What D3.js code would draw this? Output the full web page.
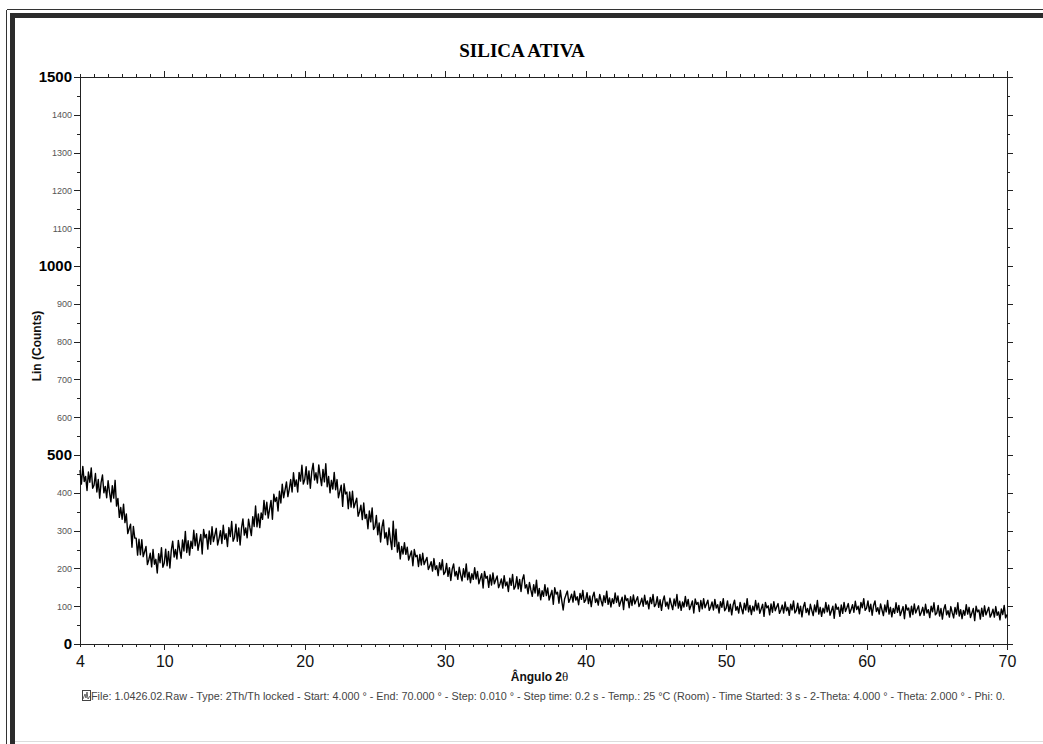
<!DOCTYPE html>
<html>
<head>
<meta charset="utf-8">
<title>SILICA ATIVA</title>
<script src="https://cdn.jsdelivr.net/npm/d3@7"></script>
<style>
    html, body { margin: 0; padding: 0; background: #ffffff; }
    #chart { display: block; }
    .axis path, .axis line { stroke: #222; shape-rendering: crispEdges; }
</style>
</head>
<body>
<svg id="chart"></svg>
<script>

// scan settings (2-theta, degrees)
const startAngle = 4;
const stepAngle = 0.1;

// intensities, one row per degree (4.0 .. 69.9), then 70.0
const counts = [
    460,423,470,430,443,406,455,428,466,412,
    420,451,402,435,386,427,447,400,417,387,
    432,402,376,419,386,433,365,385,335,361,
    330,370,321,344,292,305,317,256,311,280,
    280,235,277,236,276,231,244,258,210,223,
    240,204,250,211,224,188,239,215,255,203,
    214,251,207,245,201,248,272,230,250,225,
    274,249,227,275,246,298,242,273,235,272,
    253,301,260,292,248,269,290,238,303,281,
    290,251,299,264,310,271,288,306,262,279,
    300,266,314,277,292,258,308,284,324,272,
    282,317,272,307,262,307,331,288,307,281,
    330,307,287,337,311,365,310,344,308,347,
    330,380,342,375,333,357,380,330,396,377,
    388,352,404,373,423,387,408,429,390,410,
    435,402,453,417,434,402,454,431,473,423,
    435,469,423,458,412,456,478,434,453,426,
    474,444,419,462,429,477,416,443,400,433,
    410,454,408,435,387,404,420,364,424,397,
    402,358,402,362,404,360,373,386,338,350,
    367,329,373,332,343,305,352,323,360,303,
    310,340,289,320,270,310,328,280,295,263,
    307,276,250,325,258,304,243,269,225,258,
    238,268,237,256,222,234,246,207,250,231,
    235,205,237,209,240,210,220,229,197,206,
    218,193,226,197,207,181,215,196,223,184,
    190,213,179,202,168,198,212,180,192,171,
    203,183,167,199,177,212,170,190,162,186,
    171,202,172,192,159,173,186,148,192,174,
    179,150,183,156,188,159,170,180,149,159,
    172,148,181,154,164,139,174,155,184,145,
    152,178,146,171,139,171,183,148,157,133,
    163,143,126,157,135,169,127,147,117,141,
    126,157,128,148,116,129,142,105,149,132,
    137,108,142,115,90,119,130,140,110,120,
    132,111,140,116,125,104,134,118,142,110,
    116,136,107,127,99,125,137,110,120,103,
    131,115,101,128,110,140,105,122,98,120,
    107,135,110,127,100,112,124,91,129,115,
    120,96,125,102,130,106,116,125,99,108,
    121,100,129,105,114,93,123,107,131,99,
    105,125,97,117,89,114,127,100,111,93,
    121,105,91,119,101,131,95,113,89,111,
    98,126,100,118,91,102,114,82,119,105,
    110,86,115,93,120,96,106,116,89,98,
    111,90,118,95,104,82,112,97,120,88,
    94,114,86,105,77,103,116,89,99,82,
    110,94,80,108,90,120,85,102,78,100,
    87,115,90,108,81,93,105,73,110,96,
    101,77,106,84,112,88,98,107,81,90,
    103,82,111,88,97,76,105,90,114,82,
    88,108,80,100,72,98,110,83,94,77,
    105,89,75,103,85,115,79,97,73,95,
    82,110,85,103,76,88,100,68,106,92,
    97,73,103,81,110,86,96,107,81,91,
    104,84,113,91,100,80,110,96,120,89,
    95,114,86,105,76,102,114,86,96,79,
    106,90,75,103,85,115,79,97,72,94,
    81,109,84,102,75,87,99,67,104,90,
    95,71,100,78,106,82,92,101,75,84,
    97,76,105,82,91,70,100,85,109,77,
    82,102,74,94,66,92,104,77,88,71,
    99,83,69,97,79,109,74,91,67,89,
    76,104,79,97,70,82,94,62,100,85,
    90,66,95,73,101,77,87,97,71,79,
    92,71,99,76,85,64,93,78,102,69,
    78
];

// axis domains and labelled ticks
const xDomain = [4, 70];
const yDomain = [0, 1500];
const xLabelTicks = [4, 10, 20, 30, 40, 50, 60, 70];
const yBoldTicks = [0, 500, 1000, 1500];

const chartTitle = "SILICA ATIVA";
const xTitle = "Ângulo 2";
const yTitle = "Lin (Counts)";
const footerText = "File: 1.0426.02.Raw - Type: 2Th/Th locked - Start: 4.000 ° - End: 70.000 ° - Step: 0.010 ° - Step time: 0.2 s - Temp.: 25 °C (Room) - Time Started: 3 s - 2-Theta: 4.000 ° - Theta: 2.000 ° - Phi: 0.";


class DiffractionChart {

    constructor(parentElement, data) {
        this.parentElement = parentElement;
        this.data = data;
        this.initVis();
    }

    initVis() {
        let vis = this;

        vis.W = 1043;
        vis.H = 744;
        vis.margin = { top: 77, right: 36, bottom: 100, left: 80 };
        vis.width = vis.W - vis.margin.left - vis.margin.right;
        vis.height = vis.H - vis.margin.top - vis.margin.bottom;

        vis.root = d3.select("#" + vis.parentElement)
            .attr("width", vis.W)
            .attr("height", vis.H);

        vis.drawFrame();

        vis.svg = vis.root.append("g")
            .attr("transform", `translate(${vis.margin.left}, ${vis.margin.top})`);

        vis.xScale = d3.scaleLinear().domain(xDomain).range([0, vis.width]);
        vis.yScale = d3.scaleLinear().domain(yDomain).range([vis.height, 0]);

        vis.wrangleData();
    }

    // the double border of the report page
    drawFrame() {
        let vis = this;
        let f = vis.root.append("g").attr("class", "frame").attr("shape-rendering", "crispEdges");

        f.append("line").attr("x1", 6.5).attr("x2", 6.5).attr("y1", 9.5).attr("y2", vis.H)
            .attr("stroke", "#333");
        f.append("line").attr("x1", 6.5).attr("x2", vis.W).attr("y1", 9.5).attr("y2", 9.5)
            .attr("stroke", "#333");
        f.append("rect").attr("x", 10).attr("y", 13).attr("width", 5).attr("height", vis.H)
            .attr("fill", "#2b2b2b");
        f.append("rect").attr("x", 10).attr("y", 13).attr("width", vis.W).attr("height", 5)
            .attr("fill", "#2b2b2b");
        f.append("line").attr("x1", 15).attr("x2", vis.W).attr("y1", 741.5).attr("y2", 741.5)
            .attr("stroke", "#dcdcdc");
    }

    wrangleData() {
        let vis = this;
        vis.displayData = vis.data.map((c, i) => ({
            angle: startAngle + i * stepAngle,
            count: c
        }));
        vis.updateVis();
    }

    updateVis() {
        let vis = this;
        let xMinor = d3.range(xDomain[0], xDomain[1] + 1, 1);
        let yMinor = d3.range(yDomain[0], yDomain[1] + 1, 50);
        let xLen = d => (d % 10 === 0 ? 6 : 3);
        let yLen = d => (d % 100 === 0 ? 6 : 3);

        // bottom axis
        let bottom = vis.svg.append("g")
            .attr("class", "axis x-axis")
            .attr("transform", `translate(0, ${vis.height})`)
            .call(d3.axisBottom(vis.xScale).tickValues(xMinor).tickSizeOuter(0)
                .tickFormat(d => xLabelTicks.includes(d) ? d : ""));
        bottom.selectAll(".tick line").attr("y2", xLen);
        bottom.selectAll(".tick text")
            .attr("y", 23).attr("dy", null)
            .style("font-family", "'Liberation Sans', Arial, sans-serif")
            .style("font-size", "16px").attr("fill", "#111");

        // top axis (ticks only)
        let top = vis.svg.append("g")
            .attr("class", "axis")
            .call(d3.axisTop(vis.xScale).tickValues(xMinor).tickSizeOuter(0).tickFormat(""));
        top.selectAll(".tick line").attr("y2", d => -xLen(d));

        // left axis
        let left = vis.svg.append("g")
            .attr("class", "axis y-axis")
            .call(d3.axisLeft(vis.yScale).tickValues(yMinor).tickSizeOuter(0).tickPadding(3)
                .tickFormat(d => d % 100 === 0 ? d : ""));
        left.selectAll(".tick line").attr("x2", d => -yLen(d));
        left.selectAll(".tick text")
            .attr("x", -8)
            .style("font-family", "'Liberation Sans', Arial, sans-serif")
            .style("font-size", d => yBoldTicks.includes(d) ? "15px" : "9px")
            .style("font-weight", d => yBoldTicks.includes(d) ? "bold" : "normal")
            .attr("fill", d => yBoldTicks.includes(d) ? "#000" : "#555");

        // right axis (ticks only)
        let right = vis.svg.append("g")
            .attr("class", "axis")
            .attr("transform", `translate(${vis.width}, 0)`)
            .call(d3.axisRight(vis.yScale).tickValues(yMinor).tickSizeOuter(0).tickFormat(""));
        right.selectAll(".tick line").attr("x2", yLen);

        // close the box
        vis.svg.append("line").attr("x1", 0).attr("x2", vis.width).attr("y1", 0.5).attr("y2", 0.5)
            .attr("stroke", "#222").attr("shape-rendering", "crispEdges");

        // the diffraction trace
        let line = d3.line()
            .x(d => vis.xScale(d.angle))
            .y(d => vis.yScale(d.count));

        vis.svg.append("path")
            .datum(vis.displayData)
            .attr("class", "trace")
            .attr("d", line)
            .attr("fill", "none")
            .attr("stroke", "#000")
            .attr("stroke-width", 1.4)
            .attr("stroke-linejoin", "round");

        // titles
        vis.root.append("text")
            .attr("x", 522).attr("y", 57)
            .attr("text-anchor", "middle")
            .style("font-family", "'Liberation Serif', 'Times New Roman', serif")
            .style("font-size", "19px").style("font-weight", "bold")
            .text(chartTitle);

        let xt = vis.root.append("text")
            .attr("x", vis.margin.left + vis.width / 2 - 4).attr("y", 681)
            .attr("text-anchor", "middle")
            .style("font-family", "'Liberation Sans', Arial, sans-serif")
            .style("font-size", "12px").style("font-weight", "bold")
            .attr("fill", "#111");
        xt.append("tspan").text(xTitle);
        xt.append("tspan").style("font-weight", "normal").style("font-family", "'Liberation Serif', serif")
            .style("font-size", "13px").text("θ");

        vis.root.append("text")
            .attr("transform", "translate(41, 346) rotate(-90)")
            .attr("text-anchor", "middle")
            .style("font-family", "'Liberation Sans', Arial, sans-serif")
            .style("font-size", "12px").style("font-weight", "bold")
            .attr("fill", "#111")
            .text(yTitle);

        // footer with the scan icon
        let foot = vis.root.append("g").attr("class", "footer");
        foot.append("rect").attr("x", 82.5).attr("y", 690.5).attr("width", 8).attr("height", 10)
            .attr("fill", "none").attr("stroke", "#444");
        foot.append("path").attr("d", "M83,699 L85,694 L86,698 L87,692 L88,699 L90,696")
            .attr("fill", "none").attr("stroke", "#444").attr("stroke-width", 0.8);
        foot.append("text")
            .attr("x", 91).attr("y", 700)
            .attr("textLength", 914).attr("lengthAdjust", "spacingAndGlyphs")
            .style("font-family", "'Liberation Sans', Arial, sans-serif")
            .style("font-size", "10px")
            .attr("fill", "#444")
            .text(footerText);
    }
}

new DiffractionChart("chart", counts);
</script>
</body>
</html>
